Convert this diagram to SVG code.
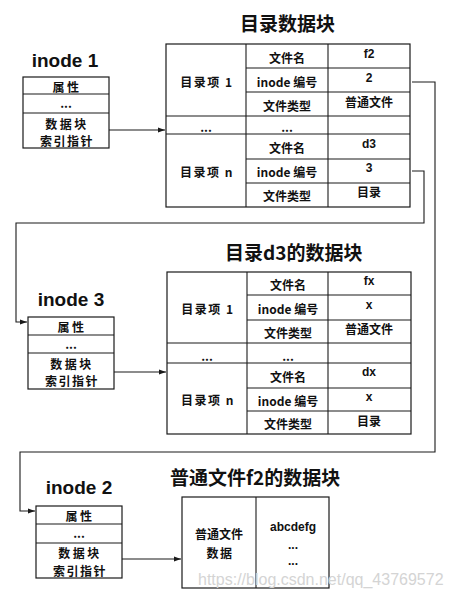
<svg xmlns="http://www.w3.org/2000/svg" width="450" height="596" viewBox="0 0 450 596">
<style>
.bx{fill:none;stroke:#1a1a1a;stroke-width:1.2}
.ln{stroke:#1a1a1a;stroke-width:1.1;fill:none}
.cn{stroke:#1a1a1a;stroke-width:1.1;fill:none}
.t{font-family:"Noto Sans CJK SC","Liberation Sans",sans-serif;font-size:12px;font-weight:700;fill:#111;text-anchor:middle;dominant-baseline:central}
.sp{letter-spacing:1.5px}
.sp2{letter-spacing:2.5px}
.tv{font-family:"Liberation Sans","Noto Sans CJK SC",sans-serif;font-size:12px;font-weight:700;fill:#111;text-anchor:middle;dominant-baseline:central}
.ttl{font-family:"Noto Sans CJK SC",sans-serif;font-size:19px;font-weight:700;fill:#111}
.ino{font-family:"Liberation Sans",Arial,sans-serif;font-size:19px;font-weight:700;fill:#111;text-anchor:middle}
.wm{font-family:"Liberation Sans",Arial,sans-serif;font-size:16px;fill:#d4d4d4}
</style>
<defs>
<marker id="ah" markerWidth="7" markerHeight="6" refX="7" refY="3" orient="auto" markerUnits="userSpaceOnUse">
<path d="M0,0.5 L7,3 L0,5.5 Z" fill="#1a1a1a"/>
</marker>
</defs>

<g id="connectors">
<path class="cn" d="M109,130 H165" marker-end="url(#ah)"/>
<path class="cn" d="M412,82 H435 V452 H20 V511 H35" marker-end="url(#ah)"/>
<path class="cn" d="M412,171 H424 V223 H16 V322 H27" marker-end="url(#ah)"/>
<path class="cn" d="M114,372 H166" marker-end="url(#ah)"/>
<path class="cn" d="M122,559 H181" marker-end="url(#ah)"/>
</g>

<g id="inode1">
<text class="ino" x="65" y="67">inode 1</text>
<rect class="bx" x="23" y="77" width="86" height="71"/>
<line class="ln" x1="23" y1="94" x2="109" y2="94"/>
<line class="ln" x1="23" y1="113" x2="109" y2="113"/>
<text class="t sp2" x="67" y="86">属性</text>
<text class="t" x="66" y="102">...</text>
<text class="t sp2" x="67" y="123">数据块</text>
<text class="t sp" x="67" y="140">索引指针</text>
</g>

<g id="dirblock">
<text class="ttl" x="240" y="31">目录数据块</text>
<rect class="bx" x="166" y="44" width="244" height="163"/>
<line class="ln" x1="246" y1="44" x2="246" y2="207"/>
<line class="ln" x1="328" y1="44" x2="328" y2="207"/>
<line class="ln" x1="246" y1="68" x2="410" y2="68"/>
<line class="ln" x1="246" y1="92" x2="410" y2="92"/>
<line class="ln" x1="166" y1="116" x2="410" y2="116"/>
<line class="ln" x1="166" y1="134" x2="410" y2="134"/>
<line class="ln" x1="246" y1="159" x2="410" y2="159"/>
<line class="ln" x1="246" y1="183" x2="410" y2="183"/>
<text class="t sp" x="207" y="81">目录项 1</text>
<text class="t" x="206" y="126">...</text>
<text class="t sp" x="207" y="171">目录项 n</text>
<text class="t" x="287" y="57">文件名</text>
<text class="t" x="287" y="81">inode 编号</text>
<text class="t" x="287" y="105">文件类型</text>
<text class="t" x="287" y="126">...</text>
<text class="t" x="287" y="147">文件名</text>
<text class="t" x="287" y="171">inode 编号</text>
<text class="t" x="287" y="195">文件类型</text>
<text class="tv" x="369" y="54">f2</text>
<text class="tv" x="369" y="78">2</text>
<text class="t" x="369" y="101">普通文件</text>
<text class="tv" x="369" y="144">d3</text>
<text class="tv" x="369" y="168">3</text>
<text class="t" x="369" y="191">目录</text>
</g>

<g id="inode3">
<text class="ino" x="71" y="306">inode 3</text>
<rect class="bx" x="28" y="317" width="86" height="72"/>
<line class="ln" x1="28" y1="335" x2="114" y2="335"/>
<line class="ln" x1="28" y1="353" x2="114" y2="353"/>
<text class="t sp2" x="72" y="326">属性</text>
<text class="t" x="71" y="343">...</text>
<text class="t sp2" x="72" y="363">数据块</text>
<text class="t sp" x="72" y="380">索引指针</text>
</g>

<g id="d3block">
<text class="ttl" x="225" y="260">目录d3的数据块</text>
<rect class="bx" x="167" y="272" width="244" height="162"/>
<line class="ln" x1="247" y1="272" x2="247" y2="434"/>
<line class="ln" x1="328" y1="272" x2="328" y2="434"/>
<line class="ln" x1="247" y1="295" x2="411" y2="295"/>
<line class="ln" x1="247" y1="320" x2="411" y2="320"/>
<line class="ln" x1="167" y1="343" x2="411" y2="343"/>
<line class="ln" x1="167" y1="363" x2="411" y2="363"/>
<line class="ln" x1="247" y1="388" x2="411" y2="388"/>
<line class="ln" x1="247" y1="411" x2="411" y2="411"/>
<text class="t sp" x="208" y="308">目录项 1</text>
<text class="t" x="207" y="355">...</text>
<text class="t sp" x="208" y="399">目录项 n</text>
<text class="t" x="288" y="284">文件名</text>
<text class="t" x="288" y="308">inode 编号</text>
<text class="t" x="288" y="332">文件类型</text>
<text class="t" x="288" y="355">...</text>
<text class="t" x="288" y="376">文件名</text>
<text class="t" x="288" y="400">inode 编号</text>
<text class="t" x="288" y="423">文件类型</text>
<text class="tv" x="369" y="281">fx</text>
<text class="tv" x="369" y="305">x</text>
<text class="t" x="369" y="328">普通文件</text>
<text class="tv" x="369" y="372">dx</text>
<text class="tv" x="369" y="397">x</text>
<text class="t" x="369" y="420">目录</text>
</g>

<g id="inode2">
<text class="ino" x="79" y="494">inode 2</text>
<rect class="bx" x="36" y="506" width="86" height="72"/>
<line class="ln" x1="36" y1="524" x2="122" y2="524"/>
<line class="ln" x1="36" y1="543" x2="122" y2="543"/>
<text class="t sp2" x="80" y="515">属性</text>
<text class="t" x="79" y="532">...</text>
<text class="t sp2" x="80" y="552">数据块</text>
<text class="t sp" x="80" y="570">索引指针</text>
</g>

<g id="f2block">
<text class="ttl" x="170" y="485">普通文件f2的数据块</text>
<rect class="bx" x="182" y="497" width="147" height="91"/>
<line class="ln" x1="256" y1="497" x2="256" y2="588"/>
<text class="t" x="219" y="533">普通文件</text>
<text class="t sp" x="220" y="552">数据</text>
<text class="tv" x="293" y="527">abcdefg</text>
<text class="tv" x="293" y="545">...</text>
<text class="tv" x="293" y="561">...</text>
</g>

<text class="wm" x="198" y="585">https://blog.csdn.net/qq_43769572</text>
</svg>
